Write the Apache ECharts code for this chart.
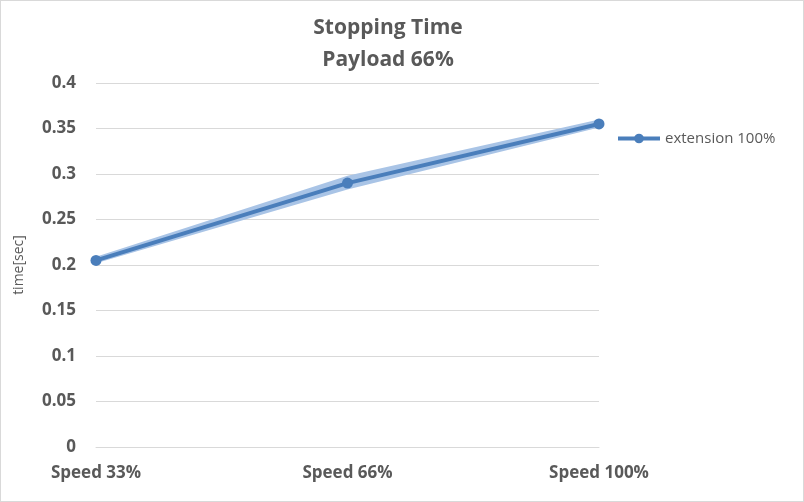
<!DOCTYPE html>
<html><head><meta charset="utf-8">
<script src="https://cdn.jsdelivr.net/npm/echarts@6/dist/echarts.min.js"></script>
<style>html,body{margin:0;padding:0;background:#fff}#c{width:804px;height:502px;box-sizing:border-box;border:1px solid #d9d9d9}</style>
</head><body><div id="c"></div>
<script>
const categories = ['Speed 33%', 'Speed 66%', 'Speed 100%'];
const values = [0.205, 0.29, 0.355];
const bandLow = [0.202, 0.283, 0.351];
const bandHigh = [0.209, 0.298, 0.360];
const bandWidth = bandHigh.map((h, i) => +(h - bandLow[i]).toFixed(4));
const chart = echarts.init(document.getElementById('c'));
chart.setOption({
  animation: false,
  title: {text: 'Stopping Time\nPayload 66%', left: 382, top: 6, textAlign: 'center',
    textStyle: {fontFamily: 'Open Sans', fontSize: 21, fontWeight: 'bold', color: '#595959', lineHeight: 32}},
  grid: {left: 95, right: 204, top: 82, bottom: 54},
  legend: {data: [{name: 'extension 100%'}], left: 610, top: 125, itemWidth: 42, itemHeight: 12, itemGap: 4,
    lineStyle: {width: 4}, itemStyle: {color: '#4a7ebb'},
    textStyle: {fontFamily: 'Open Sans', fontSize: 15, color: '#595959'}},
  xAxis: {type: 'category', data: categories, boundaryGap: false,
    axisLine: {lineStyle: {color: '#d9d9d9'}}, axisTick: {show: false},
    axisLabel: {fontFamily: 'Open Sans', fontSize: 17, fontWeight: 'bold', color: '#595959', margin: 18}},
  yAxis: {type: 'value', min: 0, max: 0.4, interval: 0.05, name: 'time[sec]', nameLocation: 'middle', nameGap: 70,
    nameTextStyle: {fontFamily: 'Open Sans', fontSize: 14, color: '#595959'},
    axisLabel: {fontFamily: 'Open Sans', fontSize: 17, fontWeight: 'bold', color: '#595959', margin: 20,
      formatter: v => String(+v.toFixed(2))},
    splitLine: {lineStyle: {color: '#d9d9d9'}}},
  series: [
    {type: 'line', data: bandLow, stack: 'b', symbol: 'none', lineStyle: {opacity: 0}, silent: true},
    {type: 'line', data: bandWidth, stack: 'b', symbol: 'none', lineStyle: {opacity: 0},
      areaStyle: {color: '#a9c4e6', opacity: 1}, silent: true},
    {name: 'extension 100%', type: 'line', data: values, symbol: 'circle', symbolSize: 11,
      lineStyle: {color: '#4a7ebb', width: 4}, itemStyle: {color: '#4a7ebb'}}
  ]
});
</script></body></html>
